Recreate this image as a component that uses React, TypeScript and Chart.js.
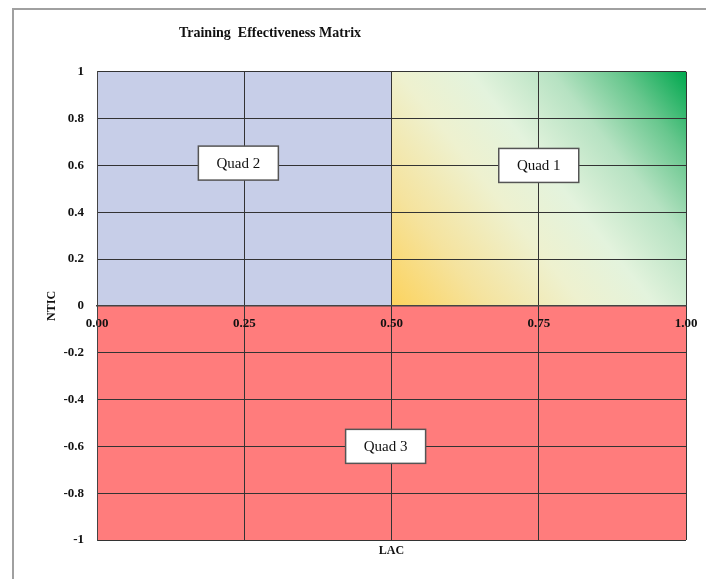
import React, { useEffect, useRef } from "react";
import { Chart, registerables } from "chart.js";

Chart.register(...registerables);

// ---- data ----
const chartTitle = "Training  Effectiveness Matrix";
const xTitle = "LAC";
const yTitle = "NTIC";
const lacRange = [0, 1];
const nticRange = [-1, 1];
const lacSplit = 0.5;
const nticSplit = 0;
const lacStep = 0.25;
const nticStep = 0.2;
const quadNames = ["Quad 1", "Quad 2", "Quad 3"];
const quadLAC = [0.75, 0.24, 0.49];
const quadNTIC = [0.6, 0.61, -0.6];

const SERIF = '"Liberation Serif", "Times New Roman", serif';

const quadrantFill = {
  id: "quadrantFill",
  beforeDraw(chart: any) {
    const { ctx, scales } = chart;
    const x = scales.x;
    const y = scales.y;
    const x0 = x.getPixelForValue(lacRange[0]);
    const xm = x.getPixelForValue(lacSplit);
    const x1 = x.getPixelForValue(lacRange[1]);
    const y0 = y.getPixelForValue(nticRange[0]);
    const ym = y.getPixelForValue(nticSplit);
    const y1 = y.getPixelForValue(nticRange[1]);
    ctx.save();
    // Quad 3 (bottom)
    ctx.fillStyle = "#ff7c7c";
    ctx.fillRect(x0, ym, x1 - x0, y0 - ym);
    // Quad 2 (top-left)
    ctx.fillStyle = "#c7cee8";
    ctx.fillRect(x0, y1, xm - x0, ym - y1);
    // Quad 1 (top-right gradient)
    const g = ctx.createLinearGradient(xm, ym, x1, y1);
    g.addColorStop(0, "#fcd35e");
    g.addColorStop(0.2, "#f5e39e");
    g.addColorStop(0.4, "#eef1cf");
    g.addColorStop(0.55, "#e3f3dd");
    g.addColorStop(0.72, "#b6e2c2");
    g.addColorStop(0.86, "#68c78e");
    g.addColorStop(1, "#00a84e");
    ctx.fillStyle = g;
    ctx.fillRect(xm, y1, x1 - xm, ym - y1);
    ctx.restore();
  },
};

const quadLabels = {
  id: "quadLabels",
  afterDatasetsDraw(chart: any) {
    const { ctx, scales } = chart;
    ctx.save();
    ctx.font = `15px ${SERIF}`;
    ctx.textAlign = "center";
    ctx.textBaseline = "middle";
    quadNames.forEach((name, i) => {
      const cx = scales.x.getPixelForValue(quadLAC[i]);
      const cy = scales.y.getPixelForValue(quadNTIC[i]);
      const w = 80;
      const h = 34;
      ctx.fillStyle = "#ffffff";
      ctx.fillRect(cx - w / 2, cy - h / 2, w, h);
      ctx.strokeStyle = "#555555";
      ctx.lineWidth = 1.5;
      ctx.strokeRect(cx - w / 2, cy - h / 2, w, h);
      ctx.fillStyle = "#111111";
      ctx.fillText(name, cx, cy + 1);
    });
    ctx.restore();
  },
};

const titleShift = {
  id: "titleShift",
  afterLayout(chart: any) {
    const tb = chart.titleBlock;
    if (tb) {
      tb.left = 12;
      tb.right = 528;
    }
  },
};

export default function App() {
  const ref = useRef<HTMLCanvasElement | null>(null);

  useEffect(() => {
    if (!ref.current) return;
    const chart = new Chart(ref.current, {
      type: "scatter",
      data: {
        datasets: [
          {
            label: "Quadrants",
            data: quadNames.map((_, i) => ({ x: quadLAC[i], y: quadNTIC[i] })),
            pointRadius: 0,
            pointHoverRadius: 0,
            showLine: false,
          },
        ],
      },
      options: {
        responsive: false,
        animation: false,
        layout: { padding: { left: 38, right: 20, top: 0, bottom: 0 } },
        plugins: {
          legend: { display: false },
          tooltip: { enabled: false },
          title: {
            display: true,
            text: chartTitle,
            color: "#111",
            font: { family: SERIF, size: 14, weight: "bold" },
            padding: { top: 25, bottom: 30 },
          },
        },
        scales: {
          x: {
            type: "linear",
            min: lacRange[0],
            max: lacRange[1],
            position: { y: nticSplit } as any,
            afterFit: (s: any) => {
              s.paddingRight = 0;
              s.paddingLeft = 0;
            },
            ticks: {
              stepSize: lacStep,
              color: "#111",
              font: { family: SERIF, size: 13, weight: "bold" },
              padding: 10,
              callback: (v: any) => Number(v).toFixed(2),
            },
            grid: { color: "#333333", lineWidth: 1, drawTicks: false },
            border: { display: true, color: "#444444", width: 1.5 },
          },
          x2: {
            type: "linear",
            position: "bottom",
            min: lacRange[0],
            max: lacRange[1],
            afterFit: (s: any) => {
              s.height = 39;
            },
            ticks: { display: false },
            grid: { display: false },
            border: { display: false },
            title: {
              display: true,
              text: xTitle,
              color: "#111",
              font: { family: SERIF, size: 12, weight: "bold" },
              padding: { top: 4, bottom: 21 },
            },
          },
          y: {
            type: "linear",
            min: nticRange[0],
            max: nticRange[1],
            position: "left",
            afterFit: (s: any) => {
              s.width = 59;
            },
            ticks: {
              stepSize: nticStep,
              color: "#111",
              font: { family: SERIF, size: 13, weight: "bold" },
              padding: 13,
              callback: (v: any) => {
                const n = Number(Number(v).toFixed(1));
                return (n === 0 ? 0 : n).toString();
              },
            },
            grid: { color: "#333333", lineWidth: 1, drawTicks: false },
            border: { display: true, color: "#444444", width: 1 },
            title: {
              display: true,
              text: yTitle,
              color: "#111",
              font: { family: SERIF, size: 12, weight: "bold" },
              padding: { top: 7, bottom: 4 },
            },
          },
        },
      },
      plugins: [quadrantFill, quadLabels, titleShift],
    });
    return () => chart.destroy();
  }, []);

  return (
    <div
      style={{
        position: "fixed",
        left: 0,
        top: 0,
        width: 706,
        height: 579,
        background: "#fff",
        overflow: "hidden",
      }}
    >
      <canvas ref={ref} width={706} height={579} style={{ display: "block" }} />
      <div
        style={{
          position: "absolute",
          left: 12,
          top: 8,
          width: 694,
          height: 571,
          borderTop: "2px solid #a0a0a0",
          borderLeft: "2px solid #a0a0a0",
          boxSizing: "border-box",
          pointerEvents: "none",
        }}
      />
    </div>
  );
}
